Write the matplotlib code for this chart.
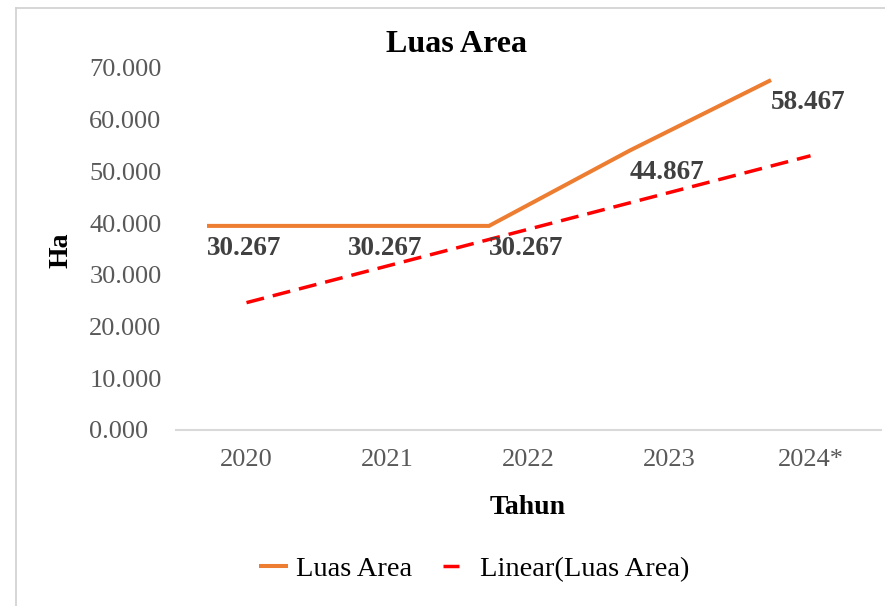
import matplotlib.pyplot as plt
import numpy as np
from matplotlib.lines import Line2D
from matplotlib.ticker import FuncFormatter

# data
years = ['2020', '2021', '2022', '2023', '2024*']
luas_area = [30.267, 30.267, 30.267, 44.867, 58.467]

# in the source picture the orange line is drawn higher and to the left of its labels
line_shift_y = 9.2
line_shift_x = -0.28

plt.rcParams['font.family'] = ['Liberation Serif', 'DejaVu Serif']

x = np.arange(len(years))
vals = np.array(luas_area)
coef = np.polyfit(x, vals, 1)
trend = np.polyval(coef, x)

fig = plt.figure(figsize=(8.85, 6.06), dpi=100)
ax = fig.add_axes([176 / 885, (606 - 430) / 606, 705 / 885, 362 / 606])

line_x = x + line_shift_x
line_y = vals + line_shift_y
ax.plot(line_x, line_y, color='#ED7D31', lw=2.9, solid_capstyle='butt',
        solid_joinstyle='miter', label='Luas Area')
ax.plot(x, trend, color='#FF0000', lw=2.5, dashes=(5.2, 2.6),
        label='Linear(Luas Area)')

for xi, yi, v in zip(line_x, line_y, luas_area):
    ax.annotate(f'{v:.3f}', (xi, yi), xytext=(0, -7), textcoords='offset points',
                ha='left', va='top', fontsize=19.5, fontweight='bold', color='#404040')

ax.set_xlim(-0.5, len(years) - 0.5)
ax.set_ylim(0, 70)
ax.set_yticks(np.arange(0, 71, 10))
ax.yaxis.set_major_formatter(FuncFormatter(lambda v, p: f'{v:.3f}'))
ax.set_xticks(x)
ax.set_xticklabels(years)
ax.tick_params(axis='both', length=0, labelsize=19, labelcolor='#595959')
# y labels are left aligned in the source
ax.tick_params(axis='y', pad=62.5)
for lbl in ax.get_yticklabels():
    lbl.set_horizontalalignment('left')
ax.tick_params(axis='x', pad=14)

for s in ['left', 'right', 'top']:
    ax.spines[s].set_visible(False)
ax.spines['bottom'].set_color('#d9d9d9')
ax.spines['bottom'].set_linewidth(1.5)

fig.text(456 / 885, 1 - 45 / 606, 'Luas Area', ha='center', va='center',
         fontsize=23, fontweight='bold')
fig.text(61 / 885, 1 - 250 / 606, 'Ha', ha='center', va='center', rotation=90,
         fontsize=20, fontweight='bold')
fig.text(528 / 885, 1 - 507 / 606, 'Tahun', ha='center', va='center',
         fontsize=20, fontweight='bold')

leg = fig.legend(loc='center', bbox_to_anchor=(474 / 885, 1 - 569 / 606), ncol=2,
                 frameon=False, fontsize=20.5, handlelength=1.05, handletextpad=0.25,
                 columnspacing=1.1)
# the source legend shows the trend as one short dash
leg.get_lines()[1].set_dashes((4.6, 10))

# outer chart border (cropped on right and bottom)
fig.add_artist(Line2D([16 / 885, 16 / 885], [0, 1 - 8 / 606], color='#d0d0d0', lw=1.2))
fig.add_artist(Line2D([16 / 885, 1], [1 - 8 / 606, 1 - 8 / 606], color='#d0d0d0', lw=1.2))

fig.savefig('out.png', dpi=100)
